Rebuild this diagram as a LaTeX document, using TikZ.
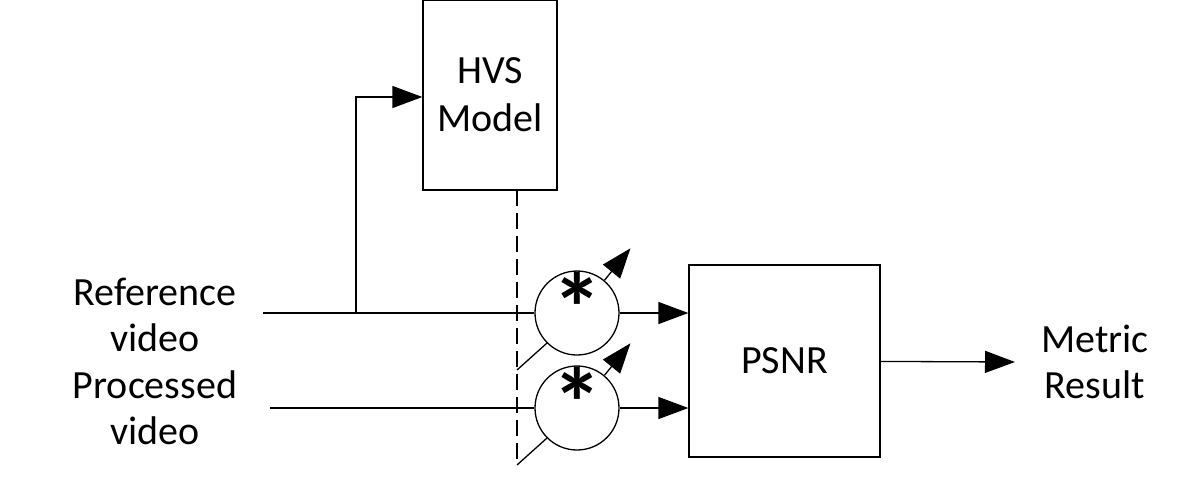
\documentclass[tikz,border=0pt]{standalone}
\usepackage{fontspec}
\setmainfont{Carlito}
\usetikzlibrary{arrows.meta}
\begin{document}
\begin{tikzpicture}[x=1pt,y=-1pt,line width=1.3pt,
  blk/.style={draw,minimum width=134pt,minimum height=190pt,inner sep=0pt,font=\fontsize{40}{48}\selectfont,align=center},
  mul/.style={draw,circle,minimum size=84pt,inner sep=0pt,font=\fontsize{100}{100}\selectfont\bfseries},
  lbl/.style={font=\fontsize{40}{46}\selectfont,align=center},
  arr/.style={-{Triangle[length=30pt,width=22pt]}}]
\useasboundingbox (0,0) rectangle (1204,477);
\node[blk] (hvs) at (490,95) {HVS\\Model};
\node[blk,minimum width=191pt,minimum height=192pt] (psnr) at (784.5,361) {PSNR};
\node[mul] (m1) at (577,313) {\raisebox{-30pt}[0pt][0pt]{*}};
\node[mul] (m2) at (577,408) {\raisebox{-30pt}[0pt][0pt]{*}};
\node[lbl] (ref) at (155,315) {Reference\\video};
\node[lbl] (proc) at (155,408) {Processed\\video};
\node[lbl] (res) at (1095,362) {Metric\\Result};
\coordinate (refin) at (263,313);
\coordinate (procin) at (270,408);
\coordinate (branch) at (356,313);
\coordinate (dtop) at (517,190);
\coordinate (dbot) at (517,465);
\coordinate (t1) at (517,370);
\coordinate (t2) at (517,465);
\coordinate (out) at (1015,362);
% signal lines
\draw (refin) -- (m1);
\draw (procin) -- (m2);
\draw[arr] (branch) |- (hvs.west |- 0,97);
\draw[dashed,dash pattern=on 16pt off 7pt] (dtop) -- (dbot);
\draw (m1.225) -- (t1);
\draw (m2.225) -- (t2);
\draw[arr] (m1.50) -- ++(26,-32);
\draw[arr] (m2.50) -- ++(26,-32);
\draw[arr] (m1) -- (psnr.west |- m1);
\draw[arr] (m2) -- (psnr.west |- m2);
\draw[arr] (psnr) -- (out);
\end{tikzpicture}
\end{document}
